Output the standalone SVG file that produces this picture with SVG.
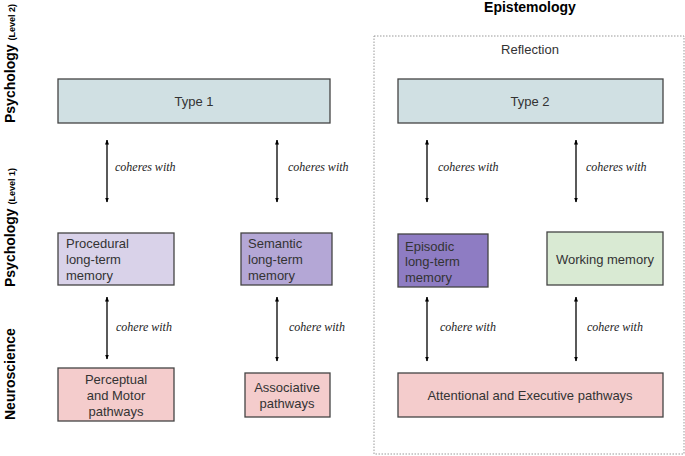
<svg xmlns="http://www.w3.org/2000/svg" width="685" height="456" viewBox="0 0 685 456">
<defs>
<marker id="ah" viewBox="0 0 10 10" refX="9" refY="5" markerWidth="5" markerHeight="5" orient="auto-start-reverse" markerUnits="userSpaceOnUse">
<path d="M0,1 L10,5 L0,9 z" fill="#000"/>
</marker>
<style>
.box{stroke:#444;stroke-width:1.3}
.t{font-family:"Liberation Sans",Arial,sans-serif;font-size:13px;fill:#333}
.c{text-anchor:middle}
.lab{font-family:"Liberation Serif","Times New Roman",serif;font-style:italic;font-size:12px;fill:#222}
.side{font-family:"Liberation Sans",Arial,sans-serif;font-weight:bold;font-size:14px;fill:#000}
.sub{font-size:9px}
.con{stroke:#000;stroke-width:1.3;fill:none;marker-start:url(#ah);marker-end:url(#ah)}
</style>
</defs>
<rect width="685" height="456" fill="#fff"/>

<g id="side-labels">
<text class="side" transform="translate(15,123) rotate(-90)">Psychology <tspan class="sub">(Level 2)</tspan></text>
<text class="side" transform="translate(15,287) rotate(-90)">Psychology <tspan class="sub">(Level 1)</tspan></text>
<text class="side" transform="translate(15,420) rotate(-90)">Neuroscience</text>
</g>

<g id="epistemology">
<text class="side c" x="530" y="12">Epistemology</text>
<rect x="374" y="36" width="310" height="418" fill="none" stroke="#999" stroke-width="1" stroke-dasharray="1.5,1.5"/>
<text class="t c" x="530" y="54">Reflection</text>
</g>

<g id="type1">
<rect class="box" x="58" y="79" width="272" height="44" fill="#d0e0e3"/>
<text class="t c" x="194" y="106">Type 1</text>
</g>
<g id="type2">
<rect class="box" x="398" y="79" width="265" height="44" fill="#d0e0e3"/>
<text class="t c" x="530" y="106">Type 2</text>
</g>

<g id="procedural">
<rect class="box" x="58" y="233" width="116" height="52" fill="#d9d2e9"/>
<text class="t" x="66" y="248">Procedural</text>
<text class="t" x="66" y="264">long-term</text>
<text class="t" x="66" y="280">memory</text>
</g>
<g id="semantic">
<rect class="box" x="241" y="233" width="91" height="52" fill="#b4a7d6"/>
<text class="t" x="248" y="248">Semantic</text>
<text class="t" x="248" y="264">long-term</text>
<text class="t" x="248" y="280">memory</text>
</g>
<g id="episodic">
<rect class="box" x="398" y="234" width="90" height="53" fill="#8e7cc3"/>
<text class="t" x="405" y="251">Episodic</text>
<text class="t" x="405" y="266">long-term</text>
<text class="t" x="405" y="282">memory</text>
</g>
<g id="working">
<rect class="box" x="547" y="232" width="116" height="53" fill="#d9ead3"/>
<text class="t c" x="605" y="264">Working memory</text>
</g>

<g id="perceptual">
<rect class="box" x="58" y="368" width="116" height="53" fill="#f4cccc"/>
<text class="t c" x="116" y="384">Perceptual</text>
<text class="t c" x="116" y="400">and Motor</text>
<text class="t c" x="116" y="416">pathways</text>
</g>
<g id="associative">
<rect class="box" x="245" y="373" width="85" height="44" fill="#f4cccc"/>
<text class="t c" x="287" y="392">Associative</text>
<text class="t c" x="287" y="408">pathways</text>
</g>
<g id="attentional">
<rect class="box" x="398" y="373" width="265" height="44" fill="#f4cccc"/>
<text class="t c" x="530" y="400">Attentional and Executive pathways</text>
</g>

<g id="connectors">
<line class="con" x1="107" y1="140" x2="107" y2="202"/>
<line class="con" x1="277" y1="140" x2="277" y2="202"/>
<line class="con" x1="427" y1="140" x2="427" y2="202"/>
<line class="con" x1="576" y1="140" x2="576" y2="202"/>
<line class="con" x1="107" y1="297" x2="107" y2="359"/>
<line class="con" x1="277" y1="297" x2="277" y2="361"/>
<line class="con" x1="427" y1="297" x2="427" y2="361"/>
<line class="con" x1="576" y1="297" x2="576" y2="361"/>
<text class="lab" x="115" y="171">coheres with</text>
<text class="lab" x="288" y="171">coheres with</text>
<text class="lab" x="438" y="171">coheres with</text>
<text class="lab" x="586" y="171">coheres with</text>
<text class="lab" x="116" y="331">cohere with</text>
<text class="lab" x="289" y="331">cohere with</text>
<text class="lab" x="440" y="331">cohere with</text>
<text class="lab" x="587" y="331">cohere with</text>
</g>
</svg>
